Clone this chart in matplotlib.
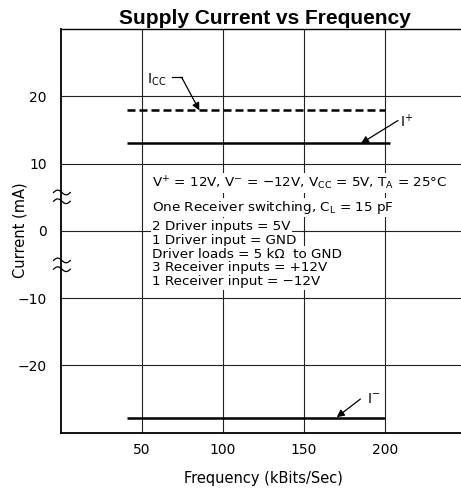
import numpy as np
import matplotlib
matplotlib.use("Agg")
import matplotlib.pyplot as plt
from matplotlib.transforms import blended_transform_factory

plt.rcParams['font.family'] = ['DejaVu Sans']
plt.rcParams['mathtext.default'] = 'regular'

# ---- data ----
freq_start = 41
icc_x = [freq_start, 200]
icc_y = [17.9, 17.9]
ipos_x = [freq_start, 203]
ipos_y = [13.0, 13.0]
ineg_x = [freq_start, 200]
ineg_y = [-27.8, -27.8]

xticks = [50, 100, 150, 200]
yticks = [20, 10, 0, -10, -20]
ytick_labels = ["20", "10", "0", "\u221210", "\u221220"]
break_marks = [5.7, 4.4, -4.4, -5.7]

conditions = [
    r"V$^{+}$ = 12V, V$^{-}$ = $-$12V, V$_{CC}$ = 5V, T$_{A}$ = 25°C",
    r"One Receiver switching, C$_{L}$ = 15 pF",
    "2 Driver inputs = 5V",
    "1 Driver input = GND",
    "Driver loads = 5 k\u03a9  to GND",
    "3 Receiver inputs = +12V",
    "1 Receiver input = \u221212V",
]

fig = plt.figure(figsize=(4.61, 4.93), dpi=100)
ax = fig.add_axes([60.7/461, 1-432.7/493, 1-60.7/461, (432.7-29)/493])
ax.set_xlim(0, 247.1)
ax.set_ylim(-30, 30)

ax.spines['right'].set_visible(False)
for s in ['left', 'bottom']:
    ax.spines[s].set_linewidth(1.3)
ax.spines['top'].set_linewidth(1.0)

ax.set_xticks(xticks)
ax.set_yticks(yticks)
ax.set_yticklabels(ytick_labels)
ax.tick_params(length=0, labelsize=10, pad=10)
ax.tick_params(axis='x', pad=7.5)
ax.grid(True, color='#222222', lw=0.8, zorder=0)
ax.set_axisbelow(True)

ax.set_xlabel("Frequency (kBits/Sec)", fontsize=10.5)
ax.set_ylabel("Current (mA)", fontsize=10.5)
ax.xaxis.set_label_coords((263-60.7)/400.3, -(479-432.7)/403.7)
ax.xaxis.label.set_va('center')
ax.yaxis.set_label_coords((20-60.7)/400.3, (432.7-230)/403.7)
ax.yaxis.label.set_va('center')
ax.yaxis.label.set_ha('center')

# data lines
l, = ax.plot(icc_x, icc_y, color='black', lw=1.8, zorder=3)
l.set_dashes((3.2, 1.6))
ax.plot(ipos_x, ipos_y, color='black', lw=1.8, zorder=3, solid_capstyle='butt')
ax.plot(ineg_x, ineg_y, color='black', lw=1.8, zorder=3, solid_capstyle='butt')

ap = dict(arrowstyle='-|>', lw=0.9, color='black', mutation_scale=11,
          shrinkA=0, shrinkB=0)
# I_CC label + leader
ax.text(53.3, 22.4, r"I$_{CC}$", fontsize=10, ha='left', va='center', zorder=5)
ax.plot([68.5, 74.7], [22.8, 22.8], color='black', lw=0.9, zorder=4)
ax.annotate('', xy=(85.6, icc_y[0]), xytext=(74.7, 22.8), arrowprops=ap, zorder=4)
# I+ label
ax.text(209.5, 16.3, r"I$^{+}$", fontsize=10, ha='left', va='center', zorder=5)
ax.annotate('', xy=(185.4, ipos_y[0]), xytext=(208.2, 16.4), arrowprops=ap, zorder=4)
# I- label
ax.text(189.0, -25.0, r"I$^{-}$", fontsize=10, ha='left', va='center', zorder=5)
ax.annotate('', xy=(170.4, ineg_y[0] + 0.1), xytext=(185.0, -25.0), arrowprops=ap, zorder=4)

# conditions text block (per-line white backgrounds)
ypix = [183, 207, 226, 240, 254, 268, 282]
for txt, py in zip(conditions, ypix):
    yd = 20 - (py - 96) / 6.74
    ax.text(56.5, yd, txt, fontsize=9.7, ha='left', va='center', zorder=5,
            bbox=dict(facecolor='white', edgecolor='none', pad=0.8))

# axis break marks on y axis
trans = blended_transform_factory(ax.transAxes, ax.transData)
t = np.linspace(0, 1, 40)
for yb in break_marks:
    xs = -0.018 + 0.042 * t
    ys = yb + 0.35 * np.sin(2 * np.pi * t)
    ax.plot(xs, ys, color='black', lw=0.9, transform=trans, clip_on=False, zorder=6)

fig.text(265/461, 1-24/493, "Supply Current vs Frequency", ha='center', va='baseline',
         fontsize=15, fontweight='bold', family=['Liberation Sans', 'DejaVu Sans'])

fig.savefig("out.png", dpi=100)
